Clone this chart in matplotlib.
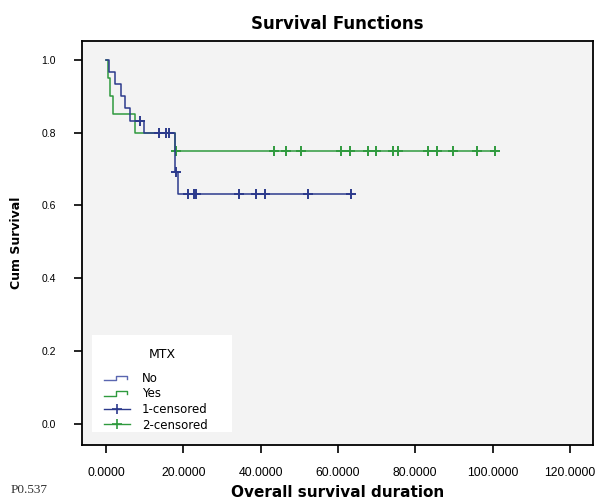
import numpy as np
import matplotlib
matplotlib.use("Agg")
import matplotlib.pyplot as plt
from matplotlib.lines import Line2D
from matplotlib.patches import Rectangle
from matplotlib.legend_handler import HandlerBase

# Kaplan-Meier curves (time, cumulative survival)
no_times = [0.0, 0.8, 2.4, 4.0, 5.0, 6.2, 9.9, 17.8, 18.7]
no_surv = [1.0, 0.967, 0.933, 0.900, 0.867, 0.833, 0.800, 0.693, 0.632]
no_end = 63.6
no_censored = [8.8, 13.7, 15.6, 16.2, 18.2, 21.3, 22.8, 23.3, 34.5, 38.8, 41.1, 52.3, 63.4]

yes_times = [0.0, 0.4, 1.0, 1.9, 7.6, 17.8]
yes_surv = [1.0, 0.95, 0.90, 0.85, 0.80, 0.75]
yes_end = 100.6
yes_censored = [18.0, 43.5, 46.5, 50.5, 60.8, 63.1, 67.7, 69.9, 74.3, 75.6,
                83.4, 85.7, 89.7, 95.9, 100.6]

x_ticks = [0, 20, 40, 60, 80, 100, 120]
y_ticks = [0.0, 0.2, 0.4, 0.6, 0.8, 1.0]

BLUE = "#2c3a8c"
GREEN = "#2f9a3e"


def surv_at(times, surv, t):
    idx = np.searchsorted(times, t, side="right") - 1
    return np.asarray(surv)[idx]


class StepHandler(HandlerBase):
    # legend handle drawn as a little step, like SPSS does
    def create_artists(self, legend, orig_handle, xdescent, ydescent,
                       width, height, fontsize, trans):
        x0, x1 = -xdescent, -xdescent + width
        yl, yh = -ydescent + 0.2 * height, -ydescent + 0.75 * height
        xs = [x0, x0 + 0.45 * width, x0 + 0.45 * width, x1 - 0.1 * width, x1 - 0.1 * width]
        ys = [yl, yl, yh, yh, yh - 0.4 * height]
        line = Line2D(xs, ys, color=orig_handle.get_color(), lw=1.0, transform=trans)
        return [line]


fig = plt.figure(figsize=(5.97, 5.04), dpi=100)
fig.patch.set_facecolor("white")
ax = fig.add_axes([0.1374, 0.1171, 0.8559, 0.8016])
ax.set_facecolor("#f3f3f3")

ax.step(yes_times + [yes_end], yes_surv + [yes_surv[-1]], where="post",
        color=GREEN, lw=1.1, zorder=2)
ax.plot(yes_censored, surv_at(yes_times, yes_surv, yes_censored), "+",
        color=GREEN, ms=6.5, mew=1.4, zorder=3)

ax.step(no_times + [no_end], no_surv + [no_surv[-1]], where="post",
        color=BLUE, lw=1.1, zorder=4)
ax.plot(no_censored, surv_at(no_times, no_surv, no_censored), "+",
        color=BLUE, ms=6.5, mew=1.4, zorder=5)

ax.set_xlim(-6.2, 126)
ax.set_ylim(-0.058, 1.052)
ax.set_xticks(x_ticks)
ax.set_xticklabels([f"{v:.4f}" for v in x_ticks], family="Liberation Sans", fontsize=8.8)
ax.set_yticks(y_ticks)
ax.set_yticklabels([f"{v:.1f}" for v in y_ticks], family="Liberation Sans", fontsize=7.5)
ax.tick_params(direction="out", length=6, width=1.2, colors="black")
ax.tick_params(axis="x", pad=10)
ax.tick_params(axis="y", pad=13)
for s in ax.spines.values():
    s.set_linewidth(1.3)

ax.set_title("Survival Functions", fontsize=12, fontweight="bold", pad=8.5)
ax.set_xlabel("Overall survival duration", fontsize=11, fontweight="bold", labelpad=4)
ax.set_ylabel("Cum Survival", fontsize=9, fontweight="bold")
ax.yaxis.set_label_coords(-0.115, 0.5)

# white legend panel in the lower left corner
ax.add_patch(Rectangle((0.0196, 0.032), 0.274, 0.24, transform=ax.transAxes,
                       facecolor="white", edgecolor="none", zorder=6))
ax.text(0.1566, 0.2228, "MTX", transform=ax.transAxes, ha="center", va="center",
        fontsize=9, zorder=7)
handles = [Line2D([], [], color="#5a66b0"), Line2D([], [], color=GREEN),
           Line2D([], [], color=BLUE, marker="+", ms=7, mew=1.2, lw=1.0),
           Line2D([], [], color=GREEN, marker="+", ms=7, mew=1.2, lw=1.0)]
leg = ax.legend(handles, ["No", "Yes", "1-censored", "2-censored"],
                handler_map={handles[0]: StepHandler(), handles[1]: StepHandler()},
                loc="upper left", bbox_to_anchor=(0.036, 0.19),
                frameon=False, fontsize=8.5, labelspacing=0.22,
                handlelength=2.2, borderpad=0.3, handletextpad=1.0, borderaxespad=0)
leg.set_zorder(7)

fig.text(0.018, 0.022, "P0.537", family="Liberation Serif", fontsize=9.5, color="#333333")

fig.savefig("out.png", dpi=100)
